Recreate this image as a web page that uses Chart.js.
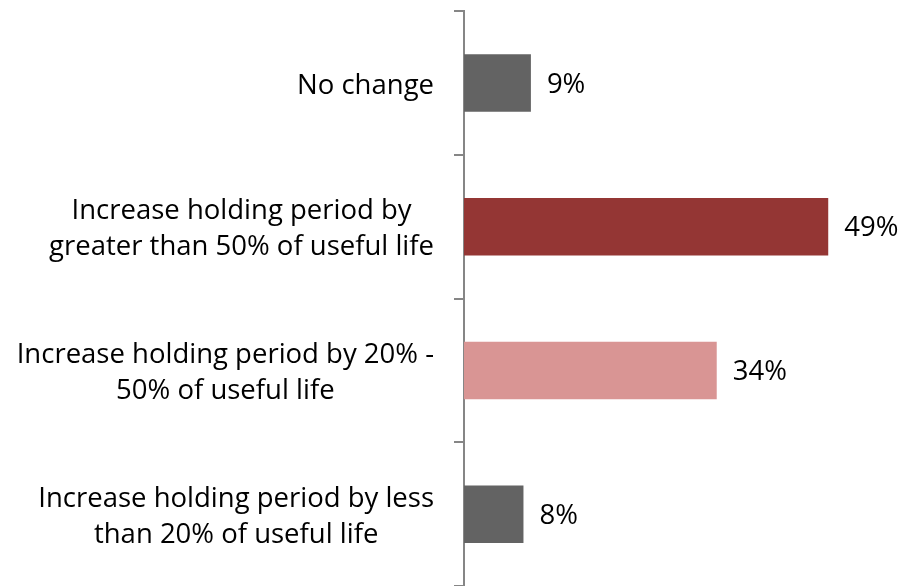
<!DOCTYPE html>
<html>
<head>
<meta charset="utf-8">
<script src="https://cdn.jsdelivr.net/npm/chart.js@4"></script>
<style>
html,body{margin:0;padding:0;background:#fff;}
#wrap{width:911px;height:586px;}
</style>
</head>
<body>
<div id="wrap"><canvas id="c"></canvas></div>
<script>
const categories = [
  "No change",
  ["Increase holding period by", "greater than 50% of useful life"],
  ["Increase holding period by 20% -", "50% of useful life"],
  ["Increase holding period by less", "than 20% of useful life"]
];
const values = [9, 49, 34, 8];
const barColors = ["#636363", "#943634", "#D99594", "#636363"];
const valueLabels = ["9%", "49%", "34%", "8%"];

const FONT = "'Open Sans', sans-serif";
const FSIZE = 27.5;
const LINE_H = 36;

const labelPlugin = {
  id: 'customLabels',
  afterDatasetsDraw(chart) {
    const ctx = chart.ctx;
    const meta = chart.getDatasetMeta(0);
    const yScale = chart.scales.y;
    ctx.save();
    ctx.font = FSIZE + "px " + FONT;
    ctx.fillStyle = "#000";
    ctx.textBaseline = "middle";
    // value labels
    ctx.textAlign = "left";
    meta.data.forEach((bar, i) => {
      ctx.fillText(valueLabels[i], bar.x + 16, bar.y + 2);
    });
    // category labels: block right-aligned, lines centered within block
    const rightEdge = yScale.right - 30;
    ctx.textAlign = "center";
    categories.forEach((lab, i) => {
      const lines = Array.isArray(lab) ? lab : [lab];
      const maxW = Math.max(...lines.map(l => ctx.measureText(l).width));
      const cx = rightEdge - maxW / 2;
      const cy = yScale.getPixelForTick(i) + 3;
      const y0 = cy - (lines.length - 1) * LINE_H / 2;
      lines.forEach((l, j) => ctx.fillText(l, cx, y0 + j * LINE_H));
    });
    ctx.restore();
  }
};

new Chart(document.getElementById('c'), {
  type: 'bar',
  data: {
    labels: categories,
    datasets: [{
      data: values,
      backgroundColor: barColors,
      borderWidth: 0,
      categoryPercentage: 0.4,
      barPercentage: 1.0
    }]
  },
  options: {
    indexAxis: 'y',
    responsive: true,
    maintainAspectRatio: false,
    animation: false,
    layout: { padding: { top: 11, right: 1, bottom: -1, left: 0 } },
    plugins: { legend: { display: false }, tooltip: { enabled: false } },
    scales: {
      x: {
        display: false,
        min: 0,
        max: 60
      },
      y: {
        offset: true,
        border: { display: true, color: "#868686", width: 2 },
        grid: {
          display: true,
          drawOnChartArea: false,
          drawTicks: true,
          tickLength: 10,
          color: "#868686",
          lineWidth: 2,
          offset: true
        },
        ticks: {
          display: true,
          color: "rgba(0,0,0,0)",
          font: { family: FONT, size: 1 },
          padding: 0
        },
        afterFit(scale) {
          scale.width = 464;
          scale.paddingTop = 0;
          scale.paddingBottom = 0;
        }
      }
    }
  },
  plugins: [labelPlugin]
});
</script>
</body>
</html>
